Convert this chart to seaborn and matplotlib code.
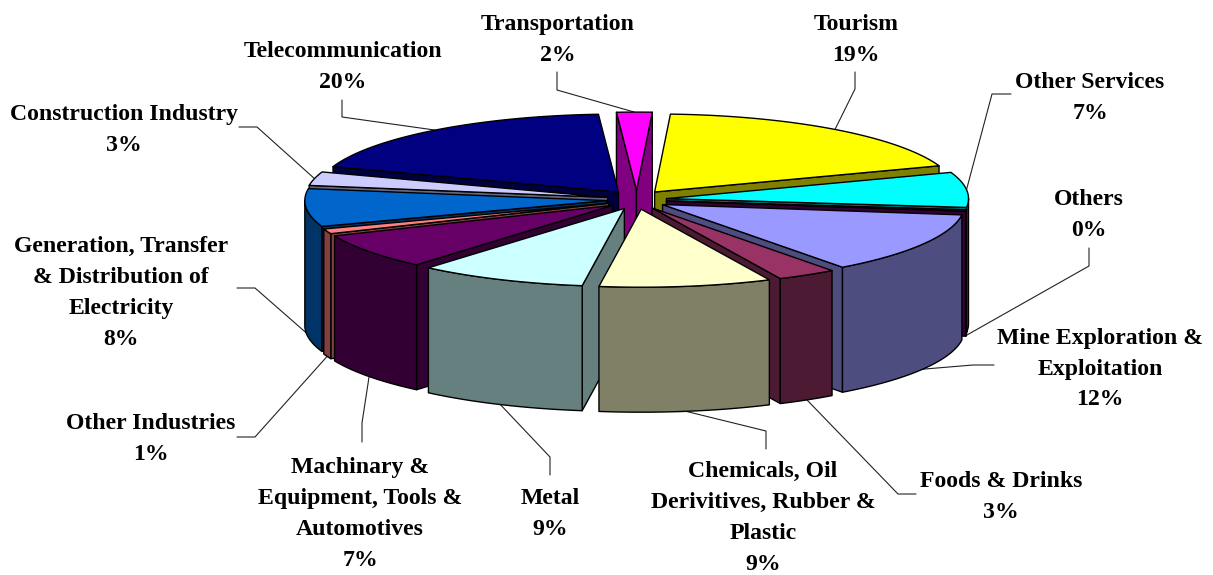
import numpy as np
import seaborn as sns
import matplotlib
matplotlib.use("Agg")
import matplotlib.pyplot as plt
from matplotlib.patches import Polygon

# slices, clockwise from the top
categories = ["Tourism", "Other Services", "Others", "Mine Exploration &\nExploitation",
              "Foods & Drinks", "Chemicals, Oil\nDerivitives, Rubber &\nPlastic", "Metal",
              "Machinary &\nEquipment, Tools &\nAutomotives", "Other Industries",
              "Generation, Transfer\n& Distribution of\nElectricity", "Construction Industry",
              "Telecommunication", "Transportation"]
values = [19, 7, 0.3, 12, 3, 9, 9, 7, 1, 8, 3, 20, 2]
top_colors = ["#FFFF00", "#00FFFF", "#660066", "#9999FF", "#993366", "#FFFFCC", "#CCFFFF",
              "#660066", "#FF8080", "#0066CC", "#CCCCFF", "#000080", "#FF00FF"]
side_colors = ["#808000", "#008080", "#330033", "#4D4D80", "#4D1A33", "#808066", "#668080",
               "#330033", "#804040", "#003366", "#666680", "#000040", "#800080"]

# layout, in pixels of the 1213x575 picture
label_xy = [(856, 40), (1090, 98), (1089, 215), (1100, 369), (1001, 497), (763, 518), (550, 514),
            (360, 514), (151, 439), (121, 293), (124, 130), (343, 67), (558, 40)]
leader_from = [(855, 72), (1011, 94), (1089, 248), (994, 365), (916, 494), (766, 449), (550, 475),
               (362, 442), (237, 437), (237, 288), (239, 127), (342, 100), (557, 72)]
leader_elbow = [(855, 89), (992, 94), (1089, 266), (973, 365), (898, 494), (766, 431), (550, 457),
                (362, 423), (255, 437), (255, 288), (257, 127), (342, 117), (557, 90)]

CX, CY = 636.7, 199.7
A, B = 302, 78
EX, EY = 30, 9.6
DEPTH = 125

sns.set_theme(style="white")
plt.rcParams["font.family"] = ["Liberation Serif", "DejaVu Serif"]


def warp(t):
    # the view is in perspective, front slices sit a bit further round
    r = np.radians(t)
    bump = 2.2 * np.exp(-((t - 205) / 30) ** 2)
    return t + 5.8 - 2.8 * np.cos(r) - 2.8 * np.sin(r) - bump


def rim(ox, oy, t):
    r = np.radians(t)
    return np.column_stack([ox + A * np.sin(r), oy - B * np.cos(r)])


def face(ax, pts, color, z):
    ax.add_patch(Polygon(pts, closed=True, facecolor=color, edgecolor="black", lw=1.0,
                         joinstyle="round", zorder=z))


fig = plt.figure(figsize=(12.13, 5.75), dpi=100)
ax = fig.add_axes([0, 0, 1, 1])
ax.set_xlim(0, 1213)
ax.set_ylim(575, 0)
ax.axis("off")
sns.despine(ax=ax, left=True, bottom=True)

edges = np.cumsum([0] + values) / np.sum(values) * 360
starts = warp(edges[:-1])
ends = warp(edges[1:])
mids = (starts + ends) / 2

order = np.argsort(-np.cos(np.radians(mids)))
z = 3
for i in order:
    t0, t1, mid = starts[i], ends[i], mids[i]
    ox = CX + EX * np.sin(np.radians(mid))
    oy = CY - EY * np.cos(np.radians(mid))
    down = np.array([0, DEPTH])

    # radial walls, only those that turn towards the viewer
    for t, sign in ((t0, -1), (t1, 1)):
        if sign * np.sin(np.radians(t)) > 0:
            p = rim(ox, oy, np.array([t]))[0]
            face(ax, [(ox, oy), p, p + down, (ox, oy + DEPTH)], side_colors[i], z)
            z += 1

    # outer wall of the front half
    lo, hi = max(t0, 90), min(t1, 270)
    if hi > lo:
        arc = rim(ox, oy, np.linspace(lo, hi, 40))
        face(ax, np.vstack([arc, arc[::-1] + down]), side_colors[i], z)
        z += 1

    arc = rim(ox, oy, np.linspace(t0, t1, 60))
    face(ax, np.vstack([[ox, oy], arc]), top_colors[i], z)
    z += 1

    # leader line goes to the middle of the rim
    end = rim(ox, oy, np.array([mid]))[0]
    if np.cos(np.radians(mid)) < 0:
        end = end + down
    xs = [leader_from[i][0], leader_elbow[i][0], end[0]]
    ys = [leader_from[i][1], leader_elbow[i][1], end[1]]
    ax.plot(xs, ys, color="#222222", lw=0.8, zorder=1)

    pct = "%d%%" % round(values[i])
    ax.text(label_xy[i][0], label_xy[i][1], categories[i] + "\n" + pct, ha="center", va="center",
            fontsize=17.1, fontweight="bold", color="black", linespacing=1.62, zorder=200)

fig.savefig("out.png", dpi=100)
